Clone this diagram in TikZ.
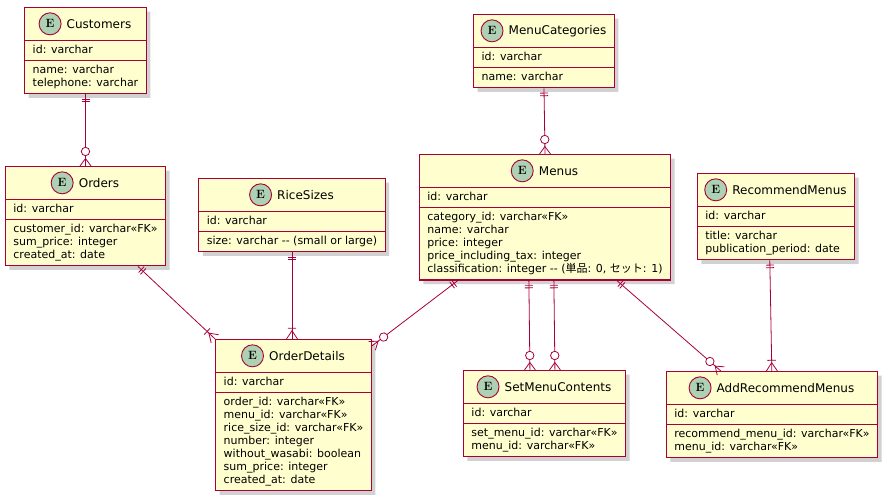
\documentclass[tikz,border=0pt]{standalone}
\usepackage{fontspec}
\usepackage{tikz}
\usetikzlibrary{positioning}
\usetikzlibrary{calc}
\usetikzlibrary{shapes.multipart,shadows,decorations.markings}
\newfontfamily\erfont{DejaVu Sans}
\newfontfamily\cjk{Noto Sans CJK JP}
\definecolor{erred}{HTML}{A80036}
\definecolor{erfill}{HTML}{FEFECE}
\definecolor{erbadge}{HTML}{ADD1B2}
\newcommand\etitlefont{\erfont\fontsize{12bp}{14bp}\selectfont}
\newcommand\erows[1]{\begin{tabular}{@{}l@{}}#1\end{tabular}}
\newcommand\ehead[1]{\rule[-7bp]{0pt}{26bp}\hphantom{\hspace{27bp}\etitlefont #1}}

\begin{document}
\begin{tikzpicture}[
                x=1bp, y=1bp,
                entity/.style={rectangle split, rectangle split parts=3,
                    rectangle split part align={center,left,left},
                    draw=erred, line width=1.1bp, fill=erfill, anchor=north,
                    inner xsep=8bp, inner ysep=3bp,
                    font=\erfont\fontsize{11bp}{13bp}\selectfont,
                    drop shadow={shadow xshift=4bp, shadow yshift=-4bp, fill=black!40, opacity=0.45}},
                etitle/.style={inner sep=0pt, font=\etitlefont},
                ebadge/.style={circle, draw=erred, fill=erbadge, line width=0.9bp, minimum size=22bp,
                    inner sep=0pt, font=\fontsize{12bp}{14bp}\selectfont\bfseries},
                rel/.style={draw=erred, line width=0.8bp},
                onlyone/.style={postaction={decorate, decoration={markings,
                    mark=at position 0 with {\draw[erred, line width=0.8bp] (4.7,-4)--(4.7,4) (7.3,-4)--(7.3,4);}}}},
                zeroormany/.style={postaction={decorate, decoration={markings,
                    mark=at position 1 with {\draw[erred, line width=0.8bp] (0,5.5)--(-7.5,0)--(0,-5.5);
                        \draw[erred, line width=0.8bp, fill=white] (-14.5,0) circle[radius=4.2];}}}},
                oneormany/.style={postaction={decorate, decoration={markings,
                    mark=at position 1 with {\draw[erred, line width=0.8bp] (0,5.5)--(-8.3,0)--(0,-5.5)
                        (-10.7,-4.2)--(-10.7,4.2);}}}}
            ]
            \useasboundingbox (0,0) rectangle (890,-501);
            % Entities
            \node[entity] (cust) at (85.5,-7) {\ehead{Customers}
                \nodepart{two}\erows{id: varchar}
                \nodepart{three}\erows{name: varchar\\telephone: varchar}};
            \node[etitle] (custname) at ($(cust.north)!0.5!(cust.one split)+(13.5,0)$) {Customers};
            \node[ebadge, left=5bp of custname] (custbadge) {E};

            \node[entity] (ord) at (85.5,-166) {\ehead{Orders}
                \nodepart{two}\erows{id: varchar}
                \nodepart{three}\erows{customer\_id: varchar«FK»\\sum\_price: integer\\created\_at: date}};
            \node[etitle] (ordname) at ($(ord.north)!0.5!(ord.one split)+(13.5,0)$) {Orders};
            \node[ebadge, left=5bp of ordname] (ordbadge) {E};

            \node[entity] (rice) at (292,-178) {\ehead{RiceSizes}
                \nodepart{two}\erows{id: varchar}
                \nodepart{three}\erows{size: varchar -{}- (small or large)}};
            \node[etitle] (ricename) at ($(rice.north)!0.5!(rice.one split)+(13.5,0)$) {RiceSizes};
            \node[ebadge, left=5bp of ricename] (ricebadge) {E};

            \node[entity] (mcat) at (544,-14) {\ehead{MenuCategories}
                \nodepart{two}\erows{id: varchar}
                \nodepart{three}\erows{name: varchar}};
            \node[etitle] (mcatname) at ($(mcat.north)!0.5!(mcat.one split)+(13.5,0)$) {MenuCategories};
            \node[ebadge, left=5bp of mcatname] (mcatbadge) {E};

            \node[entity] (menus) at (545,-154) {\ehead{Menus}
                \nodepart{two}\erows{id: varchar}
                \nodepart{three}\erows{category\_id: varchar«FK»\\name: varchar\\price: integer\\
                    price\_including\_tax: integer\\classification: integer -{}- ({\cjk 単品}: 0, {\cjk セット}: 1)}};
            \node[etitle] (menusname) at ($(menus.north)!0.5!(menus.one split)+(13.5,0)$) {Menus};
            \node[ebadge, left=5bp of menusname] (menusbadge) {E};

            \node[entity] (rmen) at (776,-173) {\ehead{RecommendMenus}
                \nodepart{two}\erows{id: varchar}
                \nodepart{three}\erows{title: varchar\\publication\_period: date}};
            \node[etitle] (rmenname) at ($(rmen.north)!0.5!(rmen.one split)+(13.5,0)$) {RecommendMenus};
            \node[ebadge, left=5bp of rmenname] (rmenbadge) {E};

            \node[entity] (od) at (293.5,-339) {\ehead{OrderDetails}
                \nodepart{two}\erows{id: varchar}
                \nodepart{three}\erows{order\_id: varchar«FK»\\menu\_id: varchar«FK»\\rice\_size\_id: varchar«FK»\\
                    number: integer\\without\_wasabi: boolean\\sum\_price: integer\\created\_at: date}};
            \node[etitle] (odname) at ($(od.north)!0.5!(od.one split)+(13.5,0)$) {OrderDetails};
            \node[ebadge, left=5bp of odname] (odbadge) {E};

            \node[entity] (smc) at (544.5,-370) {\ehead{SetMenuContents}
                \nodepart{two}\erows{id: varchar}
                \nodepart{three}\erows{set\_menu\_id: varchar«FK»\\menu\_id: varchar«FK»}};
            \node[etitle] (smcname) at ($(smc.north)!0.5!(smc.one split)+(13.5,0)$) {SetMenuContents};
            \node[ebadge, left=5bp of smcname] (smcbadge) {E};

            \node[entity] (arm) at (772,-371) {\ehead{AddRecommendMenus}
                \nodepart{two}\erows{id: varchar}
                \nodepart{three}\erows{recommend\_menu\_id: varchar«FK»\\menu\_id: varchar«FK»}};
            \node[etitle] (armname) at ($(arm.north)!0.5!(arm.one split)+(13.5,0)$) {AddRecommendMenus};
            \node[ebadge, left=5bp of armname] (armbadge) {E};

            % Relations
            \draw[rel, onlyone, zeroormany] (cust.south) -- (ord.north);
            \draw[rel, onlyone, zeroormany] (mcat.south) -- (menus.north);
            \draw[rel, onlyone, oneormany] ($(ord.south west)+(133,0)$) -- (od.north west);
            \draw[rel, onlyone, oneormany] (rice.south) -- (rice.south |- od.north);
            \draw[rel, onlyone, zeroormany] ($(menus.south west)+(39,0)$) -- ($(od.north east)+(0,-7)$);
            \draw[rel, onlyone, zeroormany] ($(menus.south west)+(110,0)$) -- ($(smc.north west)+(67,0)$);
            \draw[rel, onlyone, zeroormany] ($(menus.south west)+(135,0)$) -- ($(smc.north west)+(92,0)$);
            \draw[rel, onlyone, zeroormany] ($(menus.south west)+(198,0)$) -- ($(arm.north west)+(55,0)$);
            \draw[rel, onlyone, oneormany] ($(rmen.south west)+(73,0)$) -- ($(arm.north west)+(106,0)$);

\end{tikzpicture}
\end{document}
